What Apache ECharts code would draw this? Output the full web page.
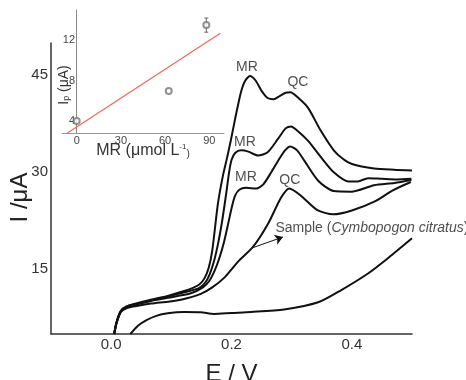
<!DOCTYPE html>
<html><head><meta charset="utf-8">
<script src="https://cdn.jsdelivr.net/npm/echarts@6/dist/echarts.min.js"></script>
<style>html,body{margin:0;padding:0;background:#fff}#c{width:466px;height:380px}</style>
</head><body><div id="c"></div>
<script>
// ---- data (E in V, I in µA) ----
const curveHigh = [[0.005,5.0],[0.009,6.9],[0.016,8.6],[0.026,9.3],[0.04,9.7],[0.066,10.3],[0.094,10.9],[0.12,11.6],[0.135,12.1],[0.147,12.7],[0.155,13.6],[0.162,15.2],[0.168,17.9],[0.1775,25.2],[0.186,29.6],[0.1925,32.2],[0.199,35.0],[0.2074,38.9],[0.2157,42.4],[0.2223,44.1],[0.2306,44.9],[0.240,44.2],[0.250,42.6],[0.260,41.5],[0.270,41.3],[0.280,41.8],[0.290,42.3],[0.298,42.4],[0.310,41.6],[0.327,40.0],[0.348,36.5],[0.370,33.4],[0.385,32.1],[0.400,31.3],[0.437,30.6],[0.470,30.4],[0.500,30.3]];
const curveMid = [[0.005,5.0],[0.009,6.8],[0.016,8.5],[0.026,9.2],[0.04,9.6],[0.066,10.2],[0.094,10.8],[0.12,11.4],[0.146,12.1],[0.156,12.9],[0.1635,14.2],[0.171,16.3],[0.1775,18.9],[0.184,22.2],[0.191,26.6],[0.196,30.0],[0.200,31.9],[0.206,33.0],[0.216,33.4],[0.228,33.2],[0.244,32.6],[0.260,33.1],[0.2775,35.2],[0.290,36.8],[0.299,37.1],[0.310,36.4],[0.327,34.9],[0.349,32.3],[0.370,30.0],[0.394,28.6],[0.41,28.6],[0.427,29.1],[0.45,29.0],[0.475,28.9],[0.499,29.0]];
const curveLow = [[0.005,5.0],[0.009,6.7],[0.016,8.4],[0.026,9.1],[0.04,9.5],[0.066,10.1],[0.094,10.6],[0.1325,11.3],[0.1525,12.2],[0.163,13.2],[0.172,14.8],[0.18,16.8],[0.188,19.4],[0.195,22.3],[0.201,24.8],[0.206,26.4],[0.213,27.3],[0.224,27.6],[0.241,27.5],[0.2525,28.1],[0.266,30.0],[0.2775,31.8],[0.289,33.4],[0.2975,34.0],[0.309,33.4],[0.321,31.8],[0.344,28.7],[0.37,27.1],[0.399,27.0],[0.437,28.0],[0.471,28.35],[0.499,28.8]];
const curveSample = [[0.005,5.0],[0.009,6.7],[0.016,8.4],[0.026,9.0],[0.04,9.3],[0.066,9.7],[0.094,10.0],[0.116,10.3],[0.149,11.2],[0.168,12.2],[0.189,13.8],[0.211,16.2],[0.236,18.5],[0.261,22.1],[0.2825,26.1],[0.296,27.5],[0.314,26.5],[0.342,24.2],[0.369,23.5],[0.40,24.1],[0.44,25.6],[0.468,27.2],[0.498,28.5]];
const curveBlank = [[0.032,5.0],[0.045,6.3],[0.058,7.1],[0.075,7.8],[0.094,8.2],[0.121,8.4],[0.149,8.35],[0.171,8.1],[0.2,8.25],[0.2325,8.4],[0.2875,8.8],[0.344,9.9],[0.3825,11.8],[0.4275,14.4],[0.461,16.8],[0.50,19.8]];

const mainXTicks = [0, 0.2, 0.4];
const mainYTicks = [15, 30, 45];
const annotations = [[0.2257,46.3,'MR'],[0.3105,44.0,'QC'],[0.2224,34.7,'MR'],[0.224,29.3,'MR'],[0.297,28.8,'QC']];
const sampleLabel = [[0.2722,21.4,'Sample']];
const arrowLine = [[0.234,18.3],[0.2855,20.0]];

// inset: MR concentration (µmol/L) vs Ip (µA)
const insetPoints = [[0,4.0],[62.5,6.97],[88,13.5]];
const insetErrors = [[88,12.8,14.2]];
const insetFit = [[-6.3,2.8],[97.5,12.7]];
const insetXTicks = [0, 30, 60, 90];
const insetYTicks = [4, 8, 12];

const FONT = 'Liberation Sans';
const pick = (ticks, fmt) => v => ticks.some(t => Math.abs(t - v) < 1e-6) ? fmt(v) : '';

const curveSeries = [curveHigh, curveMid, curveLow, curveSample, curveBlank].map((d, i) => ({
  type: 'line', xAxisIndex: 0, yAxisIndex: 0, data: d, symbol: 'none', smooth: 0.25,
  lineStyle: {color: '#111', width: 2}, silent: true, z: 3,
  markLine: i === 3 ? {
    silent: true, symbol: ['none', 'arrow'], symbolSize: 8,
    lineStyle: {color: '#111', width: 1, type: 'solid'}, label: {show: false},
    data: [[{coord: arrowLine[0]}, {coord: arrowLine[1]}]]
  } : undefined
}));

const chart = echarts.init(document.getElementById('c'), null, {renderer: 'canvas'});
chart.setOption({
  animation: false,
  textStyle: {fontFamily: FONT},
  grid: [
    {left: 51, top: 43, width: 361, height: 291, outerBoundsMode: 'none', containLabel: false},
    {left: 62, top: 10, width: 162, height: 123, outerBoundsMode: 'none', containLabel: false}
  ],
  xAxis: [
    {type: 'value', gridIndex: 0, min: -0.1, max: 0.5, interval: 0.1,
     axisLine: {onZero: false, lineStyle: {color: '#333', width: 1.5}},
     axisTick: {show: false}, splitLine: {show: false},
     axisLabel: {fontSize: 15, color: '#333', margin: 3, fontFamily: FONT, formatter: pick(mainXTicks, v => v.toFixed(1))},
     name: 'E / V', nameLocation: 'middle', nameGap: 28, nameMoveOverlap: false,
     nameTextStyle: {fontSize: 24, color: '#222', fontFamily: FONT}},
    {type: 'value', gridIndex: 1, min: -10, max: 100, interval: 10,
     axisLine: {lineStyle: {color: '#999', width: 1}},
     axisTick: {show: false}, splitLine: {show: false},
     axisLabel: {fontSize: 11, color: '#444', margin: 2, fontFamily: FONT, formatter: pick(insetXTicks, v => String(Math.round(v)))},
     name: 'MR (μmol L{sup|-1}{sm|)}', nameLocation: 'middle', nameGap: 10, nameMoveOverlap: false,
     nameTextStyle: {fontSize: 16, color: '#333', fontFamily: FONT, lineHeight: 16,
       rich: {sup: {fontSize: 8, lineHeight: 8, verticalAlign: 'top', color: '#333', fontFamily: FONT},
              sm: {fontSize: 10, lineHeight: 14, verticalAlign: 'bottom', color: '#333', fontFamily: FONT}}}}
  ],
  yAxis: [
    {type: 'value', gridIndex: 0, min: 5, max: 50, interval: 5,
     axisLine: {show: true, onZero: false, lineStyle: {color: '#333', width: 1.5}},
     axisTick: {show: false}, splitLine: {show: false},
     axisLabel: {fontSize: 15, color: '#333', margin: 3, fontFamily: FONT, formatter: pick(mainYTicks, v => String(Math.round(v)))},
     name: 'I /μA', nameLocation: 'middle', nameGap: 19, nameMoveOverlap: false,
     nameTextStyle: {fontSize: 24, color: '#222', fontFamily: FONT, padding: [0, 18, 0, 0]}},
    {type: 'value', gridIndex: 1, min: 2.8, max: 15, interval: 0.4,
     axisLine: {show: true, lineStyle: {color: '#888', width: 1}},
     axisTick: {show: false}, splitLine: {show: false},
     axisLabel: {fontSize: 11, color: '#444', margin: -13, fontFamily: FONT, formatter: pick(insetYTicks, v => String(Math.round(v)))},
     name: '{m|I}{s|p}{m| (μA)}', nameLocation: 'middle', nameGap: -9, nameMoveOverlap: false,
     nameTextStyle: {color: '#333', fontFamily: FONT, padding: [0, 27, 0, 0],
       rich: {m: {fontSize: 14, lineHeight: 14, verticalAlign: 'top', color: '#333', fontFamily: FONT},
              s: {fontSize: 9, lineHeight: 9, padding: [12, 0, 0, 0], verticalAlign: 'bottom', color: '#333', fontFamily: FONT}}}}
  ],
  series: [
    ...curveSeries,
    {type: 'scatter', xAxisIndex: 0, yAxisIndex: 0, data: annotations, symbolSize: 1,
     itemStyle: {color: 'rgba(0,0,0,0)'}, silent: true, z: 5,
     label: {show: true, position: 'inside', formatter: p => p.data[2], fontSize: 14, color: '#222', fontFamily: FONT}},
    {type: 'scatter', xAxisIndex: 0, yAxisIndex: 0, data: sampleLabel, symbolSize: 1,
     itemStyle: {color: 'rgba(0,0,0,0)'}, silent: true, z: 5,
     label: {show: true, position: 'right', distance: 0, formatter: p => p.data[2] + ' ({i|Cymbopogon citratus})',
       fontSize: 14, color: '#222', fontFamily: FONT,
       rich: {i: {fontStyle: 'italic', fontSize: 14, color: '#222', fontFamily: FONT}}}},
    {type: 'line', xAxisIndex: 1, yAxisIndex: 1, data: insetFit, symbol: 'none',
     lineStyle: {color: '#ef6a5a', width: 1.3}, silent: true, z: 3},
    {type: 'custom', xAxisIndex: 1, yAxisIndex: 1, data: insetErrors, silent: true, z: 4,
     renderItem: (params, api) => {
       const x = api.value(0), p1 = api.coord([x, api.value(1)]), p2 = api.coord([x, api.value(2)]);
       const st = {stroke: '#666', lineWidth: 1};
       return {type: 'group', children: [
         {type: 'line', shape: {x1: p1[0], y1: p1[1], x2: p2[0], y2: p2[1]}, style: st},
         {type: 'line', shape: {x1: p1[0] - 2, y1: p1[1], x2: p1[0] + 2, y2: p1[1]}, style: st},
         {type: 'line', shape: {x1: p2[0] - 2, y1: p2[1], x2: p2[0] + 2, y2: p2[1]}, style: st}
       ]};
     }},
    {type: 'scatter', xAxisIndex: 1, yAxisIndex: 1, data: insetPoints, symbol: 'emptyCircle', symbolSize: 6,
     itemStyle: {color: '#777', borderColor: '#777', borderWidth: 1}, silent: true, z: 6}
  ]
});
</script></body></html>
